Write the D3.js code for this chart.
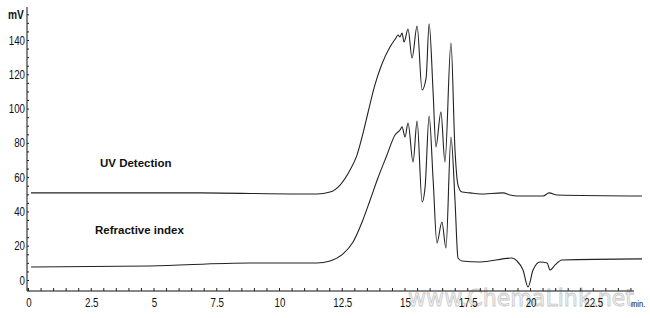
<!DOCTYPE html>
<html><head><meta charset="utf-8">
<script src="https://cdn.jsdelivr.net/npm/d3@7"></script>
<style>body{margin:0;background:#fff}svg{display:block}</style>
</head><body>
<svg id="c" width="650" height="318"></svg>
<script>
// time (min)
const uvTime = [0.12,6.85,10.84,11.51,12.03,12.43,12.83,13.11,13.35,13.55,13.82,14.10,14.42,14.66,14.74,14.82,14.90,14.98,15.14,15.30,15.50,15.70,15.86,15.98,16.14,16.25,16.45,16.61,16.85,17.01,17.13,17.29,17.61,18.01,18.92,19.20,19.48,20.52,20.76,21.08,24.46];
const uvValue = [50.8,50.8,50.2,50.2,51.3,55.4,64.2,73.0,85.8,98.0,113.8,126.0,135.9,141.2,142.9,141.8,144.1,138.8,146.4,129.5,148.2,110.9,117.9,149.4,109.1,77.6,98.0,68.8,138.3,75.8,55.4,51.3,50.8,50.2,50.8,49.6,49.0,49.0,50.8,49.6,49.0];
const riTime = [0.12,4.86,8.84,11.51,12.03,12.55,12.95,13.31,13.63,13.94,14.30,14.62,14.82,14.90,15.02,15.14,15.34,15.50,15.70,15.82,15.98,16.14,16.29,16.49,16.65,16.85,17.01,17.13,17.29,18.01,19.28,19.48,19.72,19.92,20.12,20.40,20.68,20.80,21.00,21.27,24.46];
const riValue = [7.6,8.2,9.9,9.9,11.1,15.2,22.2,33.8,46.7,59.5,72.9,84.6,87.5,89.3,83.4,91.6,68.8,92.7,45.5,54.3,95.7,58.3,21.6,33.8,18.7,83.4,46.7,12.8,11.1,10.5,12.8,11.1,5.8,-4.1,5.8,10.5,9.9,5.8,8.8,11.7,12.3];
const xTickLabels = [0,2.5,5,7.5,10,12.5,15,17.5,20,22.5];
const yTickLabels = [0,20,40,60,80,100,120,140];
const seriesNames = ["UV Detection","Refractive index"];

const svg = d3.select("#c");
const x = d3.scaleLinear().domain([0,24.5]).range([28,643]);
const y = d3.scaleLinear().domain([0,140]).range([280,40]);
const axisY = 291, axisX = 27;
const tickFont = "'Liberation Sans',Arial,sans-serif";
const sx = 0.78;

// watermark
svg.append("text").attr("x",408).attr("y",306).attr("font-family","'DejaVu Sans',sans-serif")
  .attr("font-size",23).attr("textLength",226).attr("lengthAdjust","spacingAndGlyphs")
  .attr("fill","#f4f4f4").attr("stroke","#c8c8c8").attr("stroke-width",0.8)
  .text("www.ChemaLink.net");

// axes lines
svg.append("line").attr("x1",axisX).attr("x2",axisX).attr("y1",7).attr("y2",axisY).attr("stroke","#111").attr("stroke-width",1);
svg.append("line").attr("x1",axisX).attr("x2",634).attr("y1",axisY).attr("y2",axisY).attr("stroke","#111").attr("stroke-width",1);

// x ticks
const xAxis = d3.axisTop(x).tickValues(d3.range(0,24.01,0.5)).tickSize(3).tickFormat("");
const gx = svg.append("g").attr("transform",`translate(0,${axisY})`).call(xAxis);
gx.select(".domain").remove();
gx.selectAll("line").attr("stroke","#222");
svg.selectAll(".xl").data(xTickLabels).enter().append("text")
  .attr("transform",d=>`translate(${x(d)+1},307) scale(${sx},1)`).attr("text-anchor","middle")
  .attr("font-family",tickFont).attr("font-size",12.5).attr("fill","#111")
  .text(d=>d);

// y ticks
const yAxis = d3.axisRight(y).tickValues(d3.range(-5,156,5)).tickSize(2).tickFormat("");
const gy = svg.append("g").attr("transform",`translate(${axisX},0)`).call(yAxis);
gy.select(".domain").remove();
gy.selectAll("line").attr("stroke","#222");
svg.selectAll(".yl").data(yTickLabels).enter().append("text")
  .attr("transform",d=>`translate(25,${y(d)+4.5}) scale(${sx},1)`).attr("text-anchor","end")
  .attr("font-family",tickFont).attr("font-size",12.5).attr("fill","#111")
  .text(d=>d);
svg.append("text").attr("transform","translate(8,19) scale(0.85,1)").attr("font-family",tickFont).attr("font-size",12).attr("font-weight","bold").attr("fill","#111").text("mV");
svg.append("text").attr("transform","translate(631,307) scale(0.85,1)").attr("font-family",tickFont).attr("font-size",9).attr("fill","#111").text("min.");

// traces
const line = d3.line().x(d=>x(d[0])).y(d=>y(d[1])).curve(d3.curveMonotoneX);
svg.append("path").datum(d3.zip(riTime,riValue)).attr("d",line).attr("fill","none").attr("stroke","#222").attr("stroke-width",1.1);
svg.append("path").datum(d3.zip(uvTime,uvValue)).attr("d",line).attr("fill","none").attr("stroke","#222").attr("stroke-width",1.1);

// labels
svg.append("text").attr("x",100).attr("y",167).attr("font-family","'Liberation Sans',Arial,sans-serif").attr("font-weight","bold").attr("font-size",11.5).attr("fill","#111").text(seriesNames[0]);
svg.append("text").attr("x",95).attr("y",234).attr("font-family","'Liberation Sans',Arial,sans-serif").attr("font-weight","bold").attr("font-size",11.5).attr("fill","#111").text(seriesNames[1]);
</script>
</body></html>
